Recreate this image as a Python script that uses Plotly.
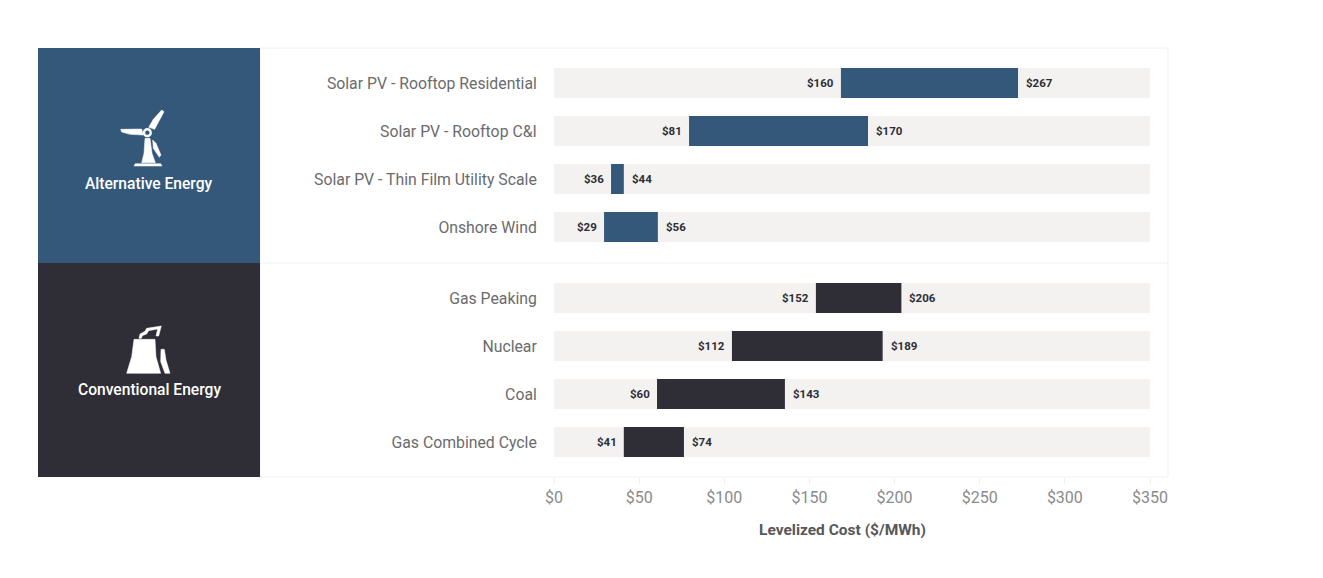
import plotly.graph_objects as go

PAGE_MARGIN = 8  # the browser's body margin offsets the figure on the page
W, H = 1323 - 2 * PAGE_MARGIN, 578 - 2 * PAGE_MARGIN
L, R, T, B = 554, 1150, 48, 477  # plot area, in page pixels

categories = ["Solar PV - Rooftop Residential", "Solar PV - Rooftop C&I",
              "Solar PV - Thin Film Utility Scale", "Onshore Wind",
              "Gas Peaking", "Nuclear", "Coal", "Gas Combined Cycle"]
bar_low = [168.5, 79.3, 33.5, 29.4, 153.8, 104.5, 60.5, 41]
bar_high = [272.5, 184.4, 41, 61, 204, 193, 135.6, 76.3]
label_low = ["$160", "$81", "$36", "$29", "$152", "$112", "$60", "$41"]
label_high = ["$267", "$170", "$44", "$56", "$206", "$189", "$143", "$74"]
track_max = 350
tick_vals = [0, 50, 100, 150, 200, 250, 300, 350]
tick_text = ["$0", "$50", "$100", "$150", "$200", "$250", "$300", "$350"]

BLUE, DARK = "#34587a", "#2f2d35"
colors = [BLUE] * 4 + [DARK] * 4
rows = [i + (0.48 if i >= 4 else 0) for i in range(len(categories))]


def px(x):
    return (x - L) / (R - L)


def py(y):
    return (B - y) / (B - T)


def poly(points, ox, oy):
    """Icon outline traced in a 3x zoom of the page, offset by (ox, oy)."""
    pts = [(px(ox + a / 3), py(oy + b / 3)) for a, b in points]
    return "M " + " L ".join(f"{a:.5f},{b:.5f}" for a, b in pts) + " Z"


def rect(x0, y0, x1, y1, fill, line=None):
    return dict(type="rect", xref="paper", yref="paper", x0=px(x0), x1=px(x1),
                y0=py(y0), y1=py(y1), fillcolor=fill,
                line=dict(color=line or fill, width=1 if line else 0), layer="below")


def circle(cx, cy, r, fill):
    return dict(type="circle", xref="paper", yref="paper", x0=px(cx - r), x1=px(cx + r),
                y0=py(cy + r), y1=py(cy - r), fillcolor=fill, line=dict(width=0), layer="above")


def icon(points, ox, oy):
    return dict(type="path", xref="paper", yref="paper", path=poly(points, ox, oy),
                fillcolor="white", line=dict(color="white", width=0.5), layer="above")


shapes = [
    rect(260, 48, 1168, 477, "white", "#f0f0f0"),
    dict(type="line", xref="paper", yref="paper", x0=px(260), x1=px(1168), y0=py(263), y1=py(263),
         line=dict(color="#efefef", width=1), layer="below"),
    rect(38, 48, 260, 263, BLUE),
    rect(38, 263, 260, 477, DARK),
]
# wind turbine
for pts in [
    [(272, 268), (335, 267), (340, 285), (300, 283), (275, 276)],
    [(395, 210), (402, 215), (374, 268), (356, 262), (370, 238)],
    [(368, 300), (378, 310), (393, 345), (388, 352), (370, 325)],
    [(345, 295), (360, 295), (366, 340), (376, 368), (335, 368), (342, 340)],
    [(316, 371), (392, 371), (396, 378), (312, 378)],
]:
    shapes.append(icon(pts, 30, 40))
shapes.append(circle(30 + 352 / 3, 40 + 278 / 3, 4.6, "white"))
shapes.append(circle(30 + 352 / 3, 40 + 278 / 3, 2.2, BLUE))
# power plant
for pts in [
    [(312, 238), (375, 238), (378, 290), (392, 340), (290, 340), (305, 290)],
    [(393, 268), (403, 268), (408, 300), (420, 340), (405, 340), (392, 305)],
    [(327, 235), (330, 222), (345, 214), (350, 205), (394, 198), (386, 228), (378, 228), (383, 207),
     (356, 212), (350, 222), (337, 227), (334, 235)],
]:
    shapes.append(icon(pts, 30, 260))

annotations = []
for lo, hi, ll, lh, r in zip(bar_low, bar_high, label_low, label_high, rows):
    annotations.append(dict(x=lo, y=r, text=ll, xref="x", yref="y", xanchor="right", showarrow=False,
                            xshift=-5, font=dict(family="Roboto", size=11.5, color="#2f2d35", weight=700)))
    annotations.append(dict(x=hi, y=r, text=lh, xref="x", yref="y", xanchor="left", showarrow=False,
                            xshift=6, font=dict(family="Roboto", size=11.5, color="#2f2d35", weight=700)))
for text, x, y in [("Alternative Energy", 149, 184), ("Conventional Energy", 149, 390)]:
    annotations.append(dict(x=px(x), y=py(y), text=text, xref="paper", yref="paper", showarrow=False,
                            xanchor="center", yanchor="middle",
                            font=dict(family="Roboto", size=15.6, color="white", weight=500)))
annotations.append(dict(x=px(842), y=py(530), text="Levelized Cost ($/MWh)", xref="paper", yref="paper",
                        showarrow=False, xanchor="center", yanchor="middle",
                        font=dict(family="Roboto", size=15.5, color="#58585a", weight=700)))

fig = go.Figure()
fig.add_bar(y=rows, x=[track_max] * len(rows), orientation="h", marker=dict(color="#f3f2f1", line=dict(width=0)),
            width=0.625, hoverinfo="skip", showlegend=False)
fig.add_bar(y=rows, x=[h - l for l, h in zip(bar_low, bar_high)], base=bar_low, orientation="h",
            marker=dict(color=colors, line=dict(width=0)), width=0.625, showlegend=False)

fig.update_layout(
    width=W, height=H,
    margin=dict(l=L - PAGE_MARGIN, r=W - (R - PAGE_MARGIN), t=T - PAGE_MARGIN, b=H - (B - PAGE_MARGIN)),
    barmode="overlay",
    paper_bgcolor="white", plot_bgcolor="rgba(0,0,0,0)", shapes=shapes, annotations=annotations,
    xaxis=dict(range=[0, track_max], tickvals=tick_vals, ticktext=tick_text, showgrid=False, zeroline=False,
               ticks="outside", ticklen=6, tickcolor="#eeeeee", showline=False,
               tickfont=dict(family="Roboto", size=16, color="#8a8a8c")),
    yaxis=dict(range=[(B - 83) / 48, (T - 83) / 48], tickvals=rows, ticktext=categories, showgrid=False,
               zeroline=False, showline=False, ticks="outside", ticklen=13, tickcolor="rgba(0,0,0,0)",
               tickfont=dict(family="Roboto", size=15.8, color="#6b6b6d")),
)
fig.write_html("out.html")
